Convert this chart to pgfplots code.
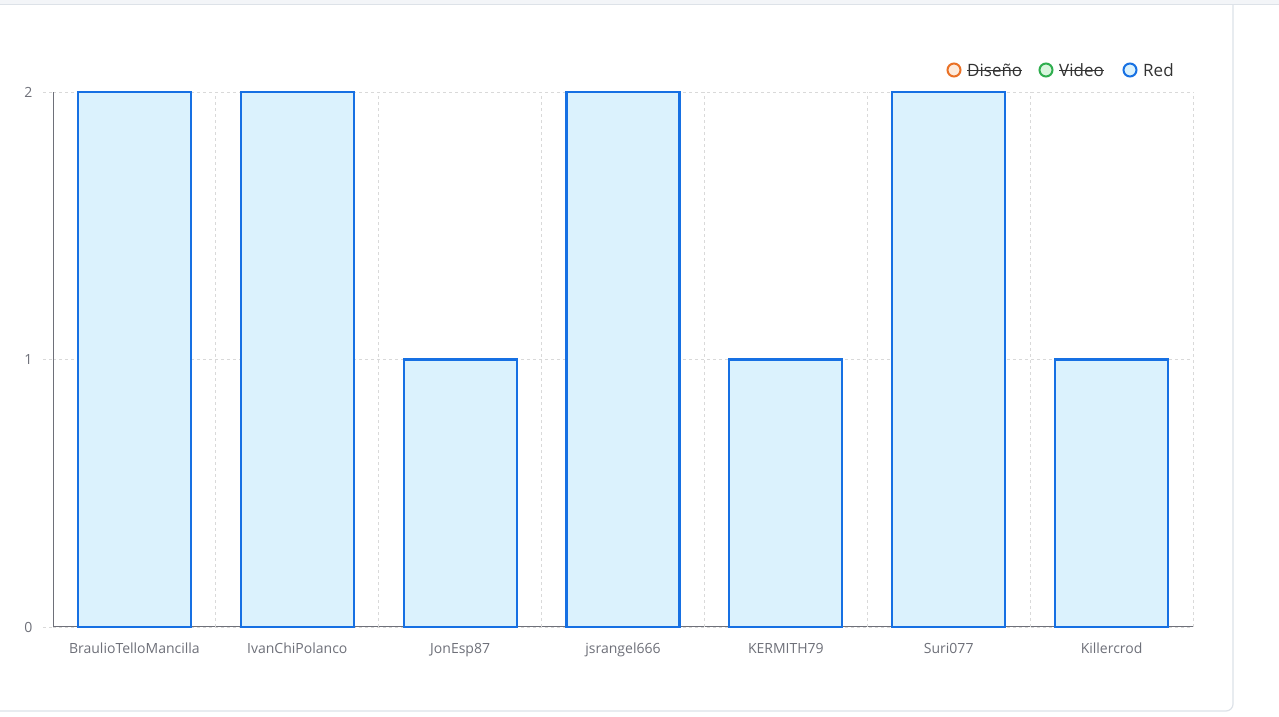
\documentclass[border=0pt]{standalone}
\usepackage{pgfplots}
\pgfplotsset{compat=1.18}
\usepackage{fontspec}
\setmainfont{Open Sans}
\definecolor{axisgray}{HTML}{6E7079}
\definecolor{gridgray}{HTML}{D9D9D9}
\definecolor{barblue}{HTML}{1670E3}
\definecolor{barfill}{HTML}{DBF2FD}
\definecolor{orangeS}{HTML}{EA7125}
\definecolor{orangeF}{HTML}{FDEBDC}
\definecolor{greenS}{HTML}{2FAE4E}
\definecolor{greenF}{HTML}{D8F5DD}
\definecolor{txt}{HTML}{333333}
\definecolor{topgray}{HTML}{F3F5F8}
\definecolor{cardborder}{HTML}{DDE2E8}
\newcommand\strike[1]{\setbox0\hbox{#1}\rlap{\color{txt}\rule[0.3em]{\wd0}{1.2pt}}\box0}
\begin{document}
\begin{tikzpicture}
\useasboundingbox (0pt,0pt) rectangle (1279pt,717pt);
\fill[white] (0pt,0pt) rectangle (1279pt,717pt);
\fill[topgray] (0pt,713pt) rectangle (1279pt,717pt);
\draw[cardborder, line width=1pt] (0pt,712.5pt) -- (1279pt,712.5pt);
\draw[cardborder, line width=1.2pt, rounded corners=7pt] (0pt,6pt) -- (1233pt,6pt) -- (1233pt,712.5pt);
\begin{axis}[
  at={(53pt,90pt)}, anchor=south west, scale only axis,
  width=1140pt, height=535pt,
  xmin=-0.5, xmax=6.5, ymin=0, ymax=2,
  clip=false,
  axis lines*=left,
  axis line style={color=axisgray, line width=1pt},
  ytick={0,1,2},
  ymajorgrids,
  grid style={dashed, color=gridgray, line width=0.8pt},
  major tick length=10pt,
  ytick style={color=gridgray, dashed, line width=0.8pt},
  tick align=outside,
  xtick={0,1,2,3,4,5,6},
  xticklabels={BraulioTelloMancilla,IvanChiPolanco,JonEsp87,jsrangel666,KERMITH79,Suri077,Killercrod},
  xtick style={draw=none},
  extra x ticks={0.5,1.5,2.5,3.5,4.5,5.5,6.5},
  extra x tick labels={},
  extra x tick style={grid=major, major tick length=0pt},
  ticklabel style={color=axisgray, font=\fontsize{14}{16}\selectfont},
  xticklabel style={yshift=-2pt, text height=11pt, text depth=3pt},
  yticklabel style={xshift=-7pt},
  /pgf/number format/assume math mode=true,
  ybar, bar width=113pt,
]
\addplot[ybar, fill=barfill, draw=barblue, line width=2.2pt] coordinates {(0,2) (1,2) (2,1) (3,2) (4,1) (5,2) (6,1)};
\end{axis}
\begin{scope}[font=\fontsize{17}{19}\selectfont, text=txt]
\draw[orangeS, fill=orangeF, line width=2pt] (954pt,647pt) circle (6.5pt);
\node[anchor=west, inner sep=0] at (967pt,647pt) {\strike{Diseño}};
\draw[greenS, fill=greenF, line width=2pt] (1046pt,647pt) circle (6.5pt);
\node[anchor=west, inner sep=0] at (1059pt,647pt) {\strike{Video}};
\draw[barblue, fill=barfill, line width=2pt] (1130pt,647pt) circle (6.5pt);
\node[anchor=west, inner sep=0] at (1143pt,647pt) {Red};
\end{scope}
\end{tikzpicture}
\end{document}
